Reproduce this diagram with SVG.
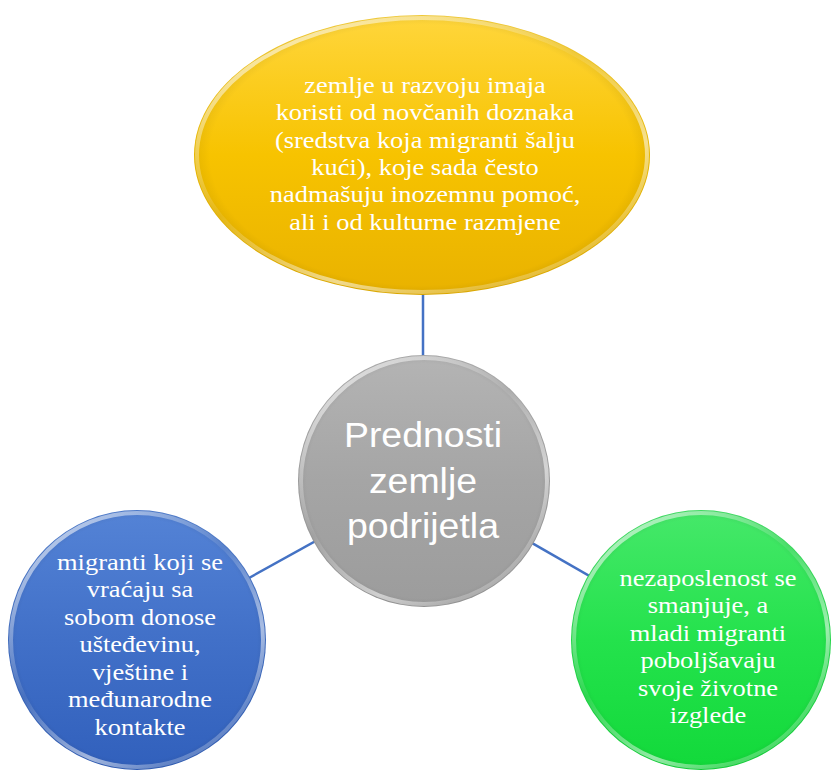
<svg xmlns="http://www.w3.org/2000/svg" width="832" height="774" viewBox="0 0 832 774">
<defs>
<style>
.conn{stroke:#4472C4;stroke-width:2.5;fill:none}
.t{fill:#FFFFFF;font-family:"Liberation Serif","Times New Roman",serif;font-size:23px;text-anchor:middle}
.c{fill:#FFFFFF;font-family:"Liberation Sans",Arial,sans-serif;font-size:35px;text-anchor:middle}
.rim{fill:none;stroke:url(#rim);stroke-width:4}
.shade{fill:url(#shade)}
</style>
<linearGradient id="gY" x1="0" y1="0" x2="0" y2="1">
<stop offset="0" stop-color="#FFD63C"/>
<stop offset="0.5" stop-color="#F7C300"/>
<stop offset="1" stop-color="#E9B200"/>
</linearGradient>
<linearGradient id="gG" x1="0" y1="0" x2="0" y2="1">
<stop offset="0" stop-color="#B4B4B4"/>
<stop offset="0.5" stop-color="#A5A5A5"/>
<stop offset="1" stop-color="#9C9C9C"/>
</linearGradient>
<linearGradient id="gB" x1="0" y1="0" x2="0" y2="1">
<stop offset="0" stop-color="#5483D6"/>
<stop offset="0.5" stop-color="#4170C8"/>
<stop offset="1" stop-color="#3160BC"/>
</linearGradient>
<linearGradient id="gN" x1="0" y1="0" x2="0" y2="1">
<stop offset="0" stop-color="#46E86A"/>
<stop offset="0.5" stop-color="#24E24C"/>
<stop offset="1" stop-color="#12D93A"/>
</linearGradient>
<linearGradient id="rim" x1="0" y1="0.2" x2="0.6" y2="1">
<stop offset="0" stop-color="#FFFFFF" stop-opacity="0.6"/>
<stop offset="0.45" stop-color="#FFFFFF" stop-opacity="0.08"/>
<stop offset="0.8" stop-color="#FFFFFF" stop-opacity="0.55"/>
<stop offset="1" stop-color="#FFFFFF" stop-opacity="0.25"/>
</linearGradient>
<radialGradient id="shade" cx="0.5" cy="0.5" r="0.5">
<stop offset="0.93" stop-color="#000000" stop-opacity="0"/>
<stop offset="1" stop-color="#000000" stop-opacity="0.07"/>
</radialGradient>
</defs>
<rect width="832" height="774" fill="#FFFFFF"/>
<g id="connectors">
<line class="conn" x1="423" y1="160" x2="423" y2="481"/>
<line class="conn" x1="137" y1="640" x2="424" y2="481"/>
<line class="conn" x1="424" y1="481" x2="701" y2="640"/>
</g>
<g id="node-top">
<ellipse cx="422" cy="155" rx="228" ry="140" fill="url(#gY)"/>
<ellipse cx="422" cy="155" rx="228" ry="140" class="shade"/>
<ellipse cx="422" cy="155" rx="225" ry="137" class="rim"/>
<g transform="translate(425,0) scale(1.15,1) translate(-425,0)">
<text class="t" x="425" y="93">zemlje u razvoju imaja</text>
<text class="t" x="425" y="120">koristi od novčanih doznaka</text>
<text class="t" x="425" y="148">(sredstva koja migranti šalju</text>
<text class="t" x="425" y="175">kući), koje sada često</text>
<text class="t" x="425" y="202">nadmašuju inozemnu pomoć,</text>
<text class="t" x="425" y="230">ali i od kulturne razmjene</text>
</g>
</g>
<g id="node-center">
<circle cx="424" cy="481" r="126" fill="url(#gG)"/>
<circle cx="424" cy="481" r="126" class="shade"/>
<circle cx="424" cy="481" r="123" class="rim"/>
<g transform="translate(423,0) scale(1.07,1) translate(-423,0)">
<text class="c" x="423" y="447">Prednosti</text>
<text class="c" x="423" y="493">zemlje</text>
<text class="c" x="423" y="538">podrijetla</text>
</g>
</g>
<g id="node-left">
<ellipse cx="137" cy="640" rx="129" ry="130" fill="url(#gB)"/>
<ellipse cx="137" cy="640" rx="129" ry="130" class="shade"/>
<ellipse cx="137" cy="640" rx="126" ry="127" class="rim"/>
<g transform="translate(140,0) scale(1.15,1) translate(-140,0)">
<text class="t" x="140" y="570">migranti koji se</text>
<text class="t" x="140" y="597">vraćaju sa</text>
<text class="t" x="140" y="625">sobom donose</text>
<text class="t" x="140" y="652">ušteđevinu,</text>
<text class="t" x="140" y="680">vještine i</text>
<text class="t" x="140" y="707">međunarodne</text>
<text class="t" x="140" y="735">kontakte</text>
</g>
</g>
<g id="node-right">
<ellipse cx="701" cy="640" rx="130" ry="130" fill="url(#gN)"/>
<ellipse cx="701" cy="640" rx="130" ry="130" class="shade"/>
<ellipse cx="701" cy="640" rx="127" ry="127" class="rim"/>
<g transform="translate(708,0) scale(1.15,1) translate(-708,0)">
<text class="t" x="708" y="586">nezaposlenost se</text>
<text class="t" x="708" y="613">smanjuje, a</text>
<text class="t" x="708" y="641">mladi migranti</text>
<text class="t" x="708" y="668">poboljšavaju</text>
<text class="t" x="708" y="696">svoje životne</text>
<text class="t" x="708" y="723">izglede</text>
</g>
</g>
</svg>
